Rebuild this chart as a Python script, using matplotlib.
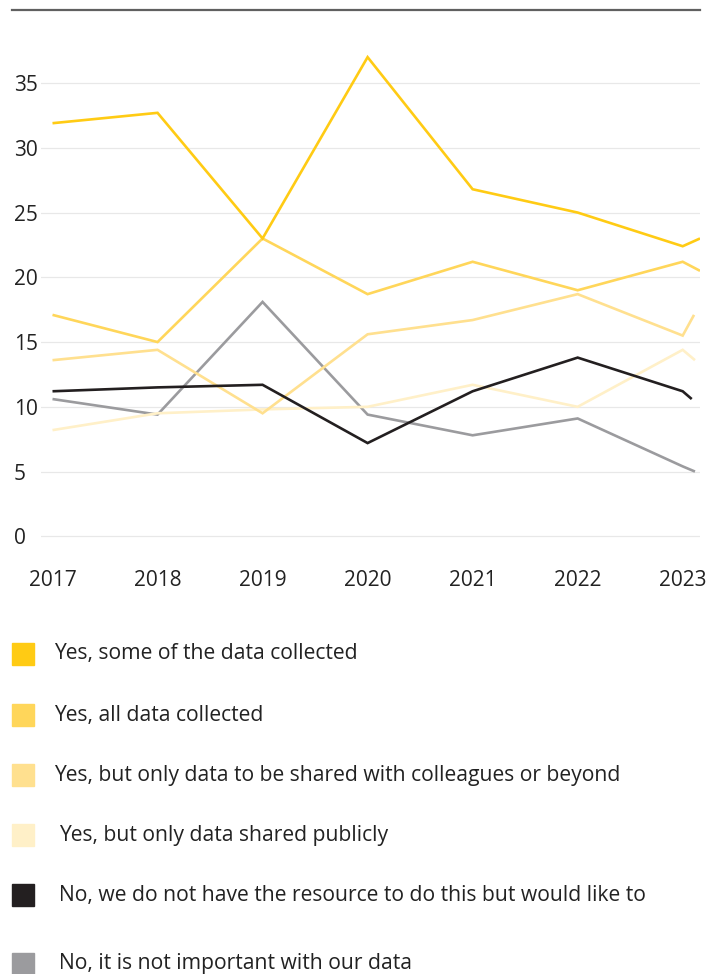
import matplotlib.pyplot as plt
from matplotlib.patches import Rectangle
from matplotlib.lines import Line2D

plt.rcParams['font.family'] = ['Open Sans', 'DejaVu Sans']

years = [2017, 2018, 2019, 2020, 2021, 2022, 2023]

# each series also has a short trailing segment just past 2023
some_data = [31.9, 32.7, 23.0, 37.0, 26.8, 25.0, 22.4]
all_data = [17.1, 15.0, 23.0, 18.7, 21.2, 19.0, 21.2]
colleagues = [13.6, 14.4, 9.5, 15.6, 16.7, 18.7, 15.5]
public = [8.2, 9.5, 9.8, 10.0, 11.7, 10.0, 14.4]
no_resource = [11.2, 11.5, 11.7, 7.2, 11.2, 13.8, 11.2]
not_important = [10.6, 9.4, 18.1, 9.4, 7.8, 9.1, 5.4]

tail_x = [2023.165, 2023.165, 2023.108, 2023.117, 2023.086, 2023.117]
tail_y = [23.0, 20.5, 17.1, 13.6, 10.6, 5.0]

labels = [
    "Yes, some of the data collected",
    "Yes, all data collected",
    "Yes, but only data to be shared with colleagues or beyond",
    "Yes, but only data shared publicly",
    "No, we do not have the resource to do this but would like to",
    "No, it is not important with our data",
]
colors = ["#ffcb14", "#ffd65a", "#ffe08f", "#fff0c8", "#231f20", "#9b9b9e"]
series = [some_data, all_data, colleagues, public, no_resource, not_important]
zorders = [8, 6, 5, 4, 7, 3]

W, H = 707, 974
fig = plt.figure(figsize=(W / 100, H / 100), dpi=100)

# axes box in pixels: x 41..700, value -0.3 at y=540.2, 38 at y=44.2
ax = fig.add_axes([41 / W, 1 - 540.2 / H, (700 - 41) / W, (540.2 - 44.2) / H])
ax.set_xlim(2017 - 11.5 / 105, 2023 + 17.3 / 105)
ax.set_ylim(-0.3, 38)

for vals, tx, ty, c, z in zip(series, tail_x, tail_y, colors, zorders):
    ax.plot(years + [tx], vals + [ty], color=c, lw=1.9, zorder=z,
            solid_joinstyle='miter', solid_capstyle='butt')

ax.set_yticks([0, 5, 10, 15, 20, 25, 30, 35])
ax.set_xticks(years)
ax.grid(axis='y', color='#e8e8e8', lw=0.9)
ax.set_axisbelow(True)
for s in ax.spines.values():
    s.set_visible(False)
ax.tick_params(axis='both', length=0, labelsize=15, labelcolor='#222222')
ax.tick_params(axis='x', pad=21.5)
ax.tick_params(axis='y', pad=19.5)
for t in ax.get_yticklabels():
    t.set_horizontalalignment('left')

# rule across the top
fig.add_artist(Line2D([12 / W, 700 / W], [1 - 10 / H, 1 - 10 / H],
                      color='#606060', lw=1.6))

# legend rows
row_y = [654, 715, 775, 835, 895, 964]
text_x = [54, 54, 54, 59, 59, 59]
for lab, c, y, tx in zip(labels, colors, row_y, text_x):
    fig.add_artist(Rectangle((12 / W, 1 - (y + 11) / H), 22 / W, 22 / H,
                             color=c, transform=fig.transFigure))
    fig.text(tx / W, 1 - y / H, lab, fontsize=15.2, color='#222222',
             va='center', ha='left')

fig.savefig("out.png", dpi=100)
